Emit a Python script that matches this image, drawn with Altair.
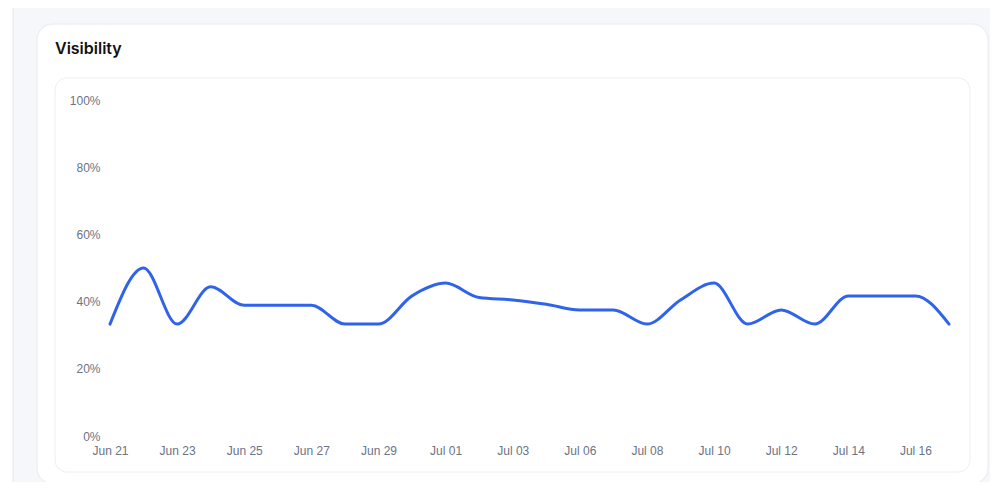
import altair as alt
import pandas as pd

LINE_COLOR = "#2f63e9"
LABEL_COLOR = "#6b7385"
PAGE_BG = "#f6f7fb"

dates = [
    "Jun 21", "Jun 22", "Jun 23", "Jun 24", "Jun 25", "Jun 26", "Jun 27",
    "Jun 28", "Jun 29", "Jun 30", "Jul 01", "Jul 02", "Jul 03", "Jul 05",
    "Jul 06", "Jul 07", "Jul 08", "Jul 09", "Jul 10", "Jul 11", "Jul 12",
    "Jul 13", "Jul 14", "Jul 15", "Jul 16", "Jul 17",
]
visibility = [
    33.3, 50.0, 33.3, 44.4, 38.9, 38.9, 38.9,
    33.3, 33.3, 41.7, 45.5, 41.2, 40.5, 39.2,
    37.5, 37.5, 33.3, 40.5, 45.5, 33.3, 37.5,
    33.3, 41.7, 41.7, 41.7, 33.3,
]
y_ticks = [0, 20, 40, 60, 80, 100]

df = pd.DataFrame({"date": dates, "visibility": visibility})
one = pd.DataFrame({"k": [0]})

# page furniture (cards), placed in pixels around the plot area
left_strip = alt.Chart(one).mark_rect(fill="white", stroke="#e4e6ec", strokeWidth=1).encode(
    x=alt.value(-110), x2=alt.value(-97), y=alt.value(-110), y2=alt.value(400)
)
main_card = alt.Chart(one).mark_rect(
    fill="white", stroke="#e8eaf0", strokeWidth=1, cornerRadius=16
).encode(x=alt.value(-73), x2=alt.value(878), y=alt.value(-76), y2=alt.value(384))
inner_box = alt.Chart(one).mark_rect(
    fill="white", stroke="#eceef2", strokeWidth=1, cornerRadius=12
).encode(x=alt.value(-55), x2=alt.value(860), y=alt.value(-22), y2=alt.value(372))
title = alt.Chart(one).mark_text(
    text="Visibility", align="left", baseline="middle", font="Inter",
    fontSize=16, fontWeight=600, color="#111111"
).encode(x=alt.value(-55), y=alt.value(-51))

line = alt.Chart(df).mark_line(
    color=LINE_COLOR, strokeWidth=3, interpolate="monotone", strokeCap="round"
).encode(
    x=alt.X(
        "date:O",
        sort=None,
        scale=alt.Scale(type="point", padding=0),
        axis=alt.Axis(
            title=None, values=dates[::2], labelAngle=0, labelPadding=9,
            labelColor=LABEL_COLOR, labelFontSize=12, labelFont="Helvetica, Arial, sans-serif",
            domain=False, ticks=False, grid=False, labelOverlap=False, zindex=1,
        ),
    ),
    y=alt.Y(
        "visibility:Q",
        scale=alt.Scale(domain=[0, 100], nice=False),
        axis=alt.Axis(
            title=None, values=y_ticks, labelExpr="datum.value + '%'",
            labelPadding=10, labelColor=LABEL_COLOR, labelFontSize=12,
            labelFont="Helvetica, Arial, sans-serif",
            domain=False, ticks=False, grid=False, zindex=1,
        ),
    ),
)

chart = alt.layer(left_strip, main_card, inner_box, title, line).properties(
    width=839,
    height=336,
    padding={"left": 102, "top": 92, "right": 41, "bottom": 46},
    autosize=alt.AutoSizeParams(type="none"),
    background=PAGE_BG,
).configure_view(stroke=None)

chart.save("out.html", embed_options={"renderer": "svg", "actions": False})
